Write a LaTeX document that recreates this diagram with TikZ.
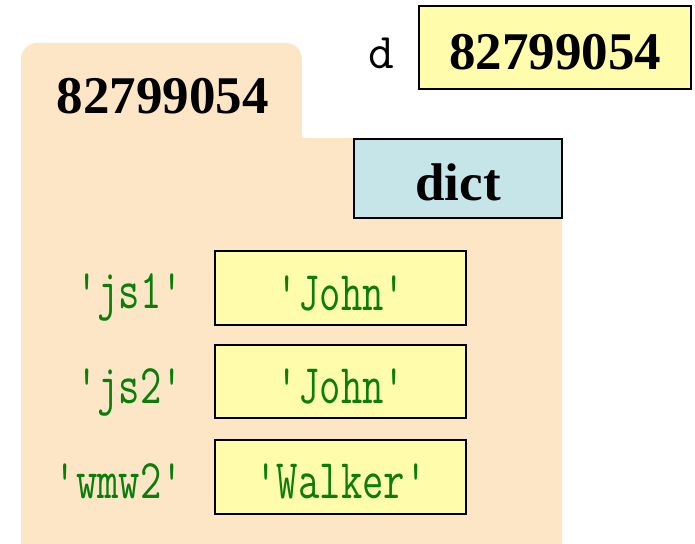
\documentclass[tikz,border=0pt]{standalone}
\usepackage{fontspec}
\setmainfont{Liberation Serif}

\definecolor{folderfill}{HTML}{FDE6C6}
\definecolor{cellfill}{HTML}{FFFCAC}
\definecolor{typefill}{HTML}{C5E5E8}
\definecolor{strgreen}{HTML}{0A7D0A}

% narrowed typewriter text for string literals
\newcommand{\strlit}[1]{\scalebox{0.74}[1]{#1}}

\tikzset{
  cell/.style={draw=black, line width=2.8pt, fill=cellfill, inner sep=0pt},
  typebox/.style={draw=black, line width=2.6pt, fill=typefill, inner sep=0pt},
  idtext/.style={font=\fontsize{53}{60}\selectfont\bfseries, anchor=base, inner sep=0pt},
  strtext/.style={font=\ttfamily\fontsize{56}{58}\selectfont, text=strgreen, inner sep=0pt},
  vartext/.style={font=\ttfamily\fontsize{50}{52}\selectfont, anchor=base, inner sep=0pt}
}

\begin{document}
\begin{tikzpicture}[x=1pt, y=-1pt]
\useasboundingbox (0,0) rectangle (695,543);

% heap folder: rounded tab plus body
\fill[folderfill, rounded corners=16] (21,43) rectangle (302,200);
\fill[folderfill] (21,138) rectangle (562,560);

% folder id
\node[idtext] (fid) at (162.5,113) {82799054};

% variable d
\node[vartext] (dname) at (381,68) {d};
\node[cell, minimum width=272, minimum height=83] (dcell) at (555,47.5) {};
\node[idtext] (dval) at (555,70) {82799054};

% type tag
\node[typebox, minimum width=208, minimum height=79] (dtype) at (458,178.5) {};
\node[idtext] (dtypetext) at (458,200) {dict};

% entries
\node[cell, minimum width=251, minimum height=74] (v1) at (340.5,288) {};
\node[cell, minimum width=251, minimum height=73] (v2) at (340.5,381.5) {};
\node[cell, minimum width=251, minimum height=74] (v3) at (340.5,477) {};

\node[strtext, anchor=base] (t1) at (341,310) {\strlit{'John'}};
\node[strtext, anchor=base] (t2) at (341,403) {\strlit{'John'}};
\node[strtext, anchor=base] (t3) at (341,498) {\strlit{'Walker'}};

\node[strtext, anchor=base east] (k1) at (183,308) {\strlit{'js1'}};
\node[strtext, anchor=base east] (k2) at (183,403) {\strlit{'js2'}};
\node[strtext, anchor=base east] (k3) at (183,498) {\strlit{'wmw2'}};
\end{tikzpicture}
\end{document}
